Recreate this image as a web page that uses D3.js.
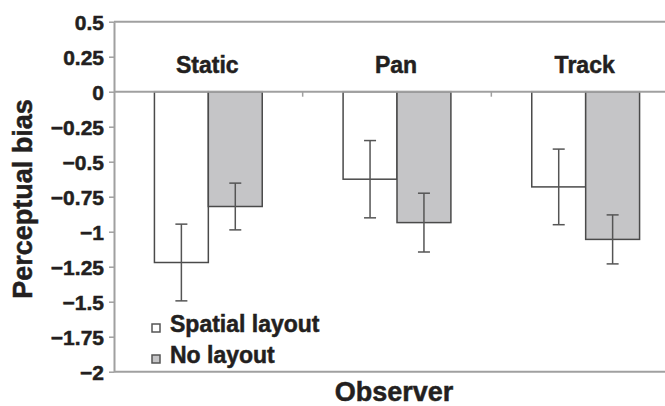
<!DOCTYPE html>
<html>
<head>
<meta charset="utf-8">
<script src="https://cdn.jsdelivr.net/npm/d3@7"></script>
<style>
  body { margin: 0; background: #fff; }
  svg { display: block; font-family: "Liberation Sans", Arial, sans-serif; }
  text { stroke: #231f20; stroke-width: 0.5px; }
</style>
</head>
<body>
<div class="container"></div>
<script>
const width = 665;
const height = 406;

// data
const conditions = ['Static', 'Pan', 'Track'];
const layouts = ['Spatial layout', 'No layout'];
const spatialMean = [-1.22, -0.625, -0.68];
const spatialErr = [0.274, 0.276, 0.27];
const noLayoutMean = [-0.82, -0.935, -1.055];
const noLayoutErr = [0.167, 0.21, 0.175];
const yTicks = [0.5, 0.25, 0, -0.25, -0.5, -0.75, -1, -1.25, -1.5, -1.75, -2];

const fills = ['#ffffff', '#c5c5c7'];
const ink = '#231f20';

const rows = [];
conditions.forEach((c, i) => {
    rows.push({cond: c, layout: layouts[0], mean: spatialMean[i], err: spatialErr[i]});
    rows.push({cond: c, layout: layouts[1], mean: noLayoutMean[i], err: noLayoutErr[i]});
});

var svg = d3.select('.container')
    .append('svg')
    .attr('width', width)
    .attr('height', height);

var x0 = d3.scaleBand()
    .domain(conditions)
    .range([114, 680]);

var x1 = d3.scaleBand()
    .domain(layouts)
    .range([0, x0.bandwidth()])
    .paddingInner(0)
    .paddingOuter(0.75);

var y = d3.scaleLinear()
    .domain([-2, 0.5])
    .range([371.7, 21.7]);

// frame lines: top, bottom
svg.append('line')
    .attr('x1', 114).attr('x2', 680)
    .attr('y1', y(0.5)).attr('y2', y(0.5))
    .attr('stroke', '#a0a0a0').attr('stroke-width', 2);
svg.append('line')
    .attr('x1', 114).attr('x2', 680)
    .attr('y1', y(-2)).attr('y2', y(-2))
    .attr('stroke', '#a0a0a0').attr('stroke-width', 2);

// y axis
var y_axis = d3.axisLeft(y)
    .tickValues(yTicks)
    .tickSizeInner(5)
    .tickSizeOuter(0)
    .tickPadding(5)
    .tickFormat(d => d3.format('')(d).replace('-', '\u2013'));

var gy = svg.append('g')
    .attr('transform', 'translate(114, 0)')
    .call(y_axis);
gy.select('.domain').attr('stroke', '#a0a0a0').attr('stroke-width', 2);
gy.selectAll('.tick line').attr('stroke', '#a0a0a0').attr('stroke-width', 1.5);
gy.selectAll('.tick text')
    .attr('fill', ink)
    .style('font-size', '21px')
    .style('font-weight', 'bold')
    .attr('dy', '0.36em');

// bars
svg.append('g')
    .selectAll('rect')
    .data(rows)
    .enter()
    .append('rect')
    .attr('x', d => x0(d.cond) + x1(d.layout))
    .attr('y', y(0))
    .attr('width', x1.bandwidth())
    .attr('height', d => y(d.mean) - y(0))
    .attr('fill', d => fills[layouts.indexOf(d.layout)])
    .attr('stroke', '#4a4a4a')
    .attr('stroke-width', 1.5);

// zero line with category ticks
svg.append('line')
    .attr('x1', 114).attr('x2', 680)
    .attr('y1', y(0)).attr('y2', y(0))
    .attr('stroke', '#a0a0a0').attr('stroke-width', 2);
svg.append('g')
    .selectAll('line')
    .data(conditions.slice(1))
    .enter()
    .append('line')
    .attr('x1', d => x0(d)).attr('x2', d => x0(d))
    .attr('y1', y(0)).attr('y2', y(0) + 5)
    .attr('stroke', '#a0a0a0').attr('stroke-width', 1.5);

// error bars
var eb = svg.append('g')
    .selectAll('g')
    .data(rows)
    .enter()
    .append('g')
    .attr('stroke', '#555')
    .attr('stroke-width', 1.5);
const cx = d => x0(d.cond) + x1(d.layout) + x1.bandwidth() / 2;
eb.append('line')
    .attr('x1', cx).attr('x2', cx)
    .attr('y1', d => y(d.mean + d.err))
    .attr('y2', d => y(d.mean - d.err));
eb.append('line')
    .attr('x1', d => cx(d) - 6).attr('x2', d => cx(d) + 6)
    .attr('y1', d => y(d.mean + d.err))
    .attr('y2', d => y(d.mean + d.err));
eb.append('line')
    .attr('x1', d => cx(d) - 6).attr('x2', d => cx(d) + 6)
    .attr('y1', d => y(d.mean - d.err))
    .attr('y2', d => y(d.mean - d.err));

// condition labels
svg.append('g')
    .selectAll('text')
    .data(conditions)
    .enter()
    .append('text')
    .attr('x', d => x0(d) + x0.bandwidth() / 2 - 1)
    .attr('y', 73)
    .attr('text-anchor', 'middle')
    .attr('fill', ink)
    .style('font-size', '23px')
    .style('font-weight', 'bold')
    .text(d => d);

// legend
var lg = svg.append('g')
    .selectAll('g')
    .data(layouts)
    .enter()
    .append('g')
    .attr('transform', (d, i) => 'translate(152,' + (324 + i * 31) + ')');
lg.append('rect')
    .attr('width', 8).attr('height', 8)
    .attr('fill', (d, i) => fills[i])
    .attr('stroke', '#555')
    .attr('stroke-width', 1.5);
lg.append('text')
    .attr('x', 18)
    .attr('y', 8)
    .attr('fill', ink)
    .style('font-size', '23px')
    .style('font-weight', 'bold')
    .text(d => d);

// axis titles
svg.append('text')
    .attr('x', 394)
    .attr('y', 401)
    .attr('text-anchor', 'middle')
    .attr('fill', ink)
    .style('font-size', '27px')
    .style('font-weight', 'bold')
    .text('Observer');

svg.append('text')
    .attr('transform', 'rotate(-90)')
    .attr('x', -199)
    .attr('y', 32)
    .attr('text-anchor', 'middle')
    .attr('fill', ink)
    .style('font-size', '27px')
    .style('font-weight', 'bold')
    .text('Perceptual bias');
</script>
</body>
</html>
